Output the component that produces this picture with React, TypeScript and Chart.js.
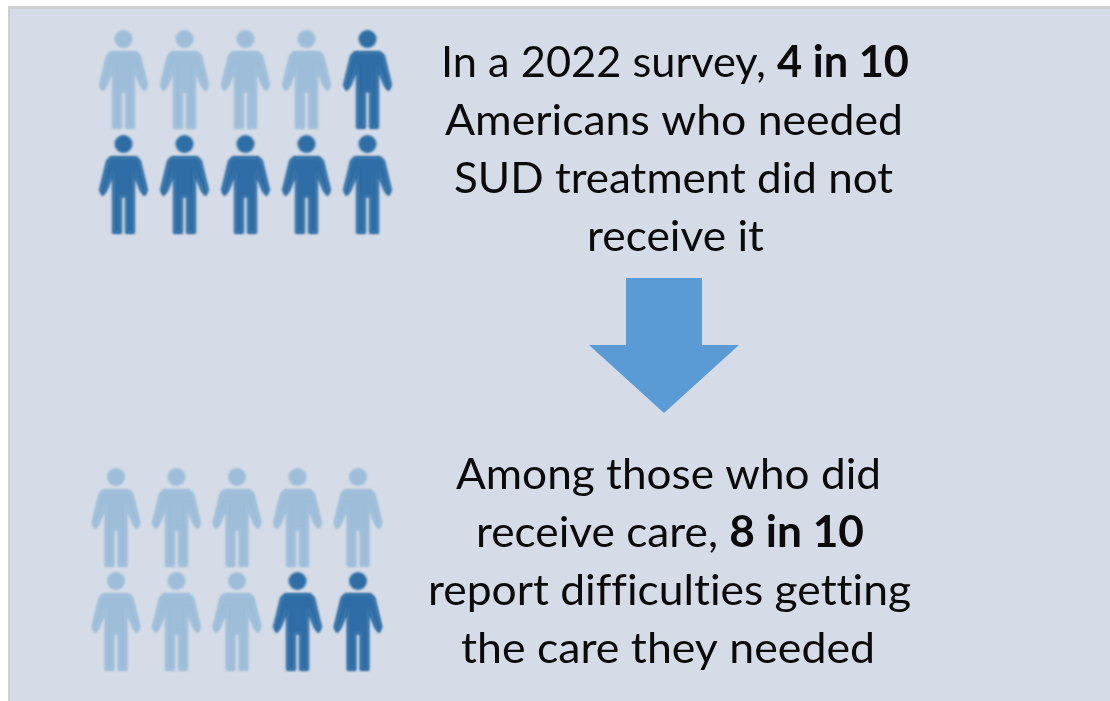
import React, { useEffect, useRef } from "react";
import { Chart, registerables } from "chart.js";

Chart.register(...registerables);

// --- data ---
const columns = [1, 2, 3, 4, 5];
const rows = [1, 2];
// pictogram: people per block, and how many of them are drawn dark (counted from the end)
const peoplePerBlock = 10;
const topHighlighted = 6; // pictured: 4 light, 6 dark
const bottomHighlighted = 2; // pictured: 8 light, 2 dark

type Seg = { t: string; b?: boolean };
const topText: Seg[][] = [
  [{ t: "In a 2022 survey, " }, { t: "4 in 10", b: true }],
  [{ t: "Americans who needed" }],
  [{ t: "SUD treatment did not" }],
  [{ t: "receive it" }],
];
const bottomText: Seg[][] = [
  [{ t: "Among those who did" }],
  [{ t: "receive care, " }, { t: "8 in 10", b: true }],
  [{ t: "report difficulties getting" }],
  [{ t: "the care they needed" }],
];

// --- layout ---
const W = 1110;
const H = 701;
const LIGHT = "#9dbdd9";
const DARK = "#2e6da5";
const ARROW = "#5b9bd5";
const TEXT = "#0b0b0b";
const FONT = "Lato";
const FONT_SIZE = 43;

function block(n: number, highlighted: number) {
  const pts: { x: number; y: number; dark: boolean }[] = [];
  let idx = 0;
  for (const r of rows) {
    for (const c of columns) {
      idx++;
      pts.push({ x: c, y: r, dark: idx > n - highlighted });
    }
  }
  return pts;
}

function personImage(color: string) {
  const cv = document.createElement("canvas");
  cv.width = 64;
  cv.height = 112;
  const c = cv.getContext("2d")!;
  c.filter = "blur(0.8px)";
  c.translate(32, 6);
  c.fillStyle = color;
  c.strokeStyle = color;
  c.lineWidth = 3;
  c.lineJoin = "round";
  c.beginPath();
  c.arc(0, 9, 9, 0, Math.PI * 2);
  c.fill();
  c.beginPath();
  const half: [number, number][] = [
    [12.5, 22.5],
    [16, 26],
    [23, 55],
    [21, 59.5],
    [17.5, 55],
    [10, 36],
    [10, 97.5],
    [3, 97.5],
    [3, 61],
  ];
  c.moveTo(-half[0][0], half[0][1]);
  half.forEach(([x, y]) => c.lineTo(-x, y));
  [...half].reverse().forEach(([x, y]) => c.lineTo(x, y));
  c.closePath();
  c.fill();
  c.stroke();
  return cv;
}

function arrowImage() {
  const cv = document.createElement("canvas");
  cv.width = 150;
  cv.height = 135;
  const c = cv.getContext("2d")!;
  c.fillStyle = ARROW;
  c.beginPath();
  c.moveTo(37, 0);
  c.lineTo(113, 0);
  c.lineTo(113, 67);
  c.lineTo(150, 67);
  c.lineTo(75, 135);
  c.lineTo(0, 67);
  c.lineTo(37, 67);
  c.closePath();
  c.fill();
  return cv;
}

// Scale ranges that put columns/rows of each block where the picture has them
const range = (first: number, step: number, size: number) => ({
  bounds: "data",
  min: 1 - first / step,
  max: 1 + (size - first) / step,
});

function drawBlockText(
  ctx: CanvasRenderingContext2D,
  lines: Seg[][],
  centers: number[],
  baselines: number[],
  widths: number[]
) {
  (ctx as any).textRendering = "optimizeSpeed"; // no ligatures, as in the reference
  lines.forEach((segs, i) => {
    const fonts = segs.map((s) => `${s.b ? "bold " : ""}${FONT_SIZE}px ${FONT}`);
    const segW = segs.map((s, k) => {
      ctx.font = fonts[k];
      return ctx.measureText(s.t).width;
    });
    const total = segW.reduce((a, b) => a + b, 0);
    const sx = widths[i] / total;
    let x = centers[i] - widths[i] / 2;
    segs.forEach((s, k) => {
      ctx.save();
      ctx.translate(x, baselines[i]);
      ctx.scale(sx, 1);
      ctx.font = fonts[k];
      ctx.fillStyle = TEXT;
      ctx.textBaseline = "alphabetic";
      ctx.fillText(s.t, 0, 0);
      ctx.restore();
      x += segW[k] * sx;
    });
  });
}

const textPlugin = {
  id: "blockText",
  afterDatasetsDraw(chart: any) {
    const ctx = chart.ctx;
    drawBlockText(ctx, topText, [675, 674, 673.5, 675.5], [77, 135, 193, 251], [468, 458, 439, 177]);
    drawBlockText(ctx, bottomText, [668.5, 670, 669.5, 668], [489, 547, 605, 663], [425, 388, 483, 414]);
  },
};

export default function App() {
  const ref = useRef<HTMLCanvasElement>(null);
  useEffect(() => {
    document.documentElement.style.overflow = "hidden";
    document.body.style.margin = "0";
    const lightImg = personImage(LIGHT);
    const darkImg = personImage(DARK);
    const top = block(peoplePerBlock, topHighlighted);
    const bottom = block(peoplePerBlock, bottomHighlighted);
    const style = (p: { dark: boolean }) => (p.dark ? darkImg : lightImg);
    const chart = new Chart(ref.current!, {
      type: "scatter",
      data: {
        datasets: [
          {
            label: "Needed SUD treatment",
            data: top,
            xAxisID: "xTop",
            yAxisID: "yTop",
            pointStyle: top.map(style),
          },
          {
            label: "Received care",
            data: bottom,
            xAxisID: "xBottom",
            yAxisID: "yBottom",
            pointStyle: bottom.map(style),
          },
          {
            label: "Arrow",
            data: [{ x: 1, y: 1 }],
            xAxisID: "xArrow",
            yAxisID: "yArrow",
            pointStyle: arrowImage(),
          },
        ] as any,
      },
      options: {
        animation: false,
        responsive: false,
        devicePixelRatio: 1,
        layout: { padding: 0, autoPadding: false },
        plugins: { legend: { display: false }, tooltip: { enabled: false }, title: { display: false } },
        scales: {
          xTop: { type: "linear", display: false, ...range(123.5, 61, W) },
          yTop: { type: "linear", display: false, ...range(80, 105, H), reverse: true },
          xBottom: { type: "linear", display: false, ...range(116, 60.5, W) },
          yBottom: { type: "linear", display: false, ...range(518, 104, H), reverse: true },
          xArrow: { type: "linear", display: false, ...range(664, 100, W) },
          yArrow: { type: "linear", display: false, ...range(345.5, 100, H), reverse: true },
        },
      } as any,
      plugins: [textPlugin],
    });
    return () => chart.destroy();
  }, []);
  return (
    <div style={{ position: "relative", width: W, height: H, background: "#fff", overflow: "hidden" }}>
      <div
        style={{
          position: "absolute",
          left: 8,
          top: 6,
          width: W,
          height: H,
          background: "#d5dce7",
          borderLeft: "2px solid #cfcfcf",
          borderTop: "3px solid #cfcfcf",
        }}
      />
      <canvas ref={ref} width={W} height={H} style={{ position: "absolute", left: 0, top: 0, display: "block" }} />
    </div>
  );
}
